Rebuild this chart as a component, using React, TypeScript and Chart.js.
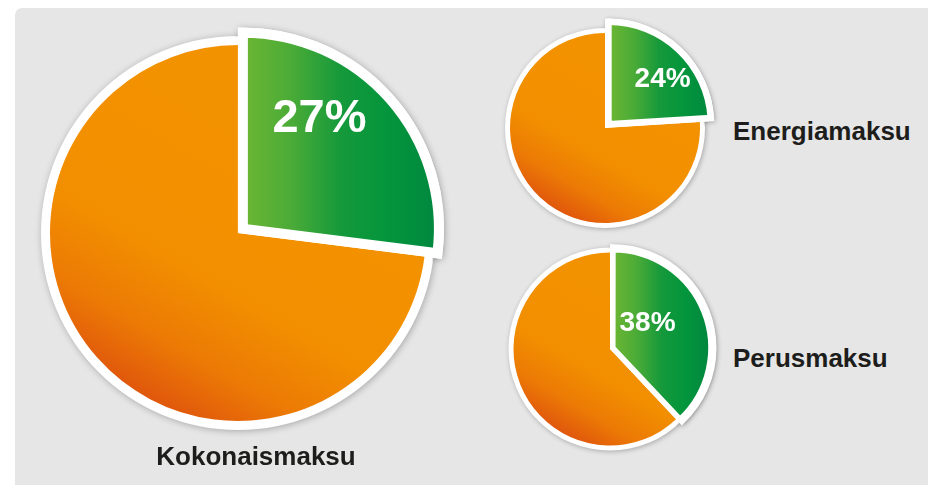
import React, { useEffect, useRef } from 'react';
import { Chart, registerables } from 'chart.js';

Chart.register(...registerables);

// ---- data ----
const pieTitles = ['Kokonaismaksu', 'Energiamaksu', 'Perusmaksu'];
const segmentNames = ['Osuus', 'Muu osuus'];
const greenShares = [27, 24, 38];
const orangeShares = [73, 76, 62];
const shareLabels = ['27%', '24%', '38%'];

// ---- styling / layout (no data) ----
type PieStyle = {
  left: number; top: number; size: number;
  baseR: number; ring: number; sliceR: number; border: number; offset: number;
  font: number; labelAngle: number; labelDist: number; blur: number;
};
const pieStyles: PieStyle[] = [
  { left: 18, top: 13, size: 440, baseR: 188, ring: 9, sliceR: 196, border: 10, offset: 26, font: 47, labelAngle: 0.349, labelDist: 0.70, blur: 7 },
  { left: 485, top: 8, size: 240, baseR: 95, ring: 5, sliceR: 102.5, border: 6.5, offset: 20, font: 28, labelAngle: 0.568, labelDist: 0.70, blur: 5 },
  { left: 490, top: 229, size: 240, baseR: 96.5, ring: 5, sliceR: 97.2, border: 5.5, offset: 12, font: 28, labelAngle: 0.38, labelDist: 0.454, blur: 5 },
];
const titleStyles = [
  { left: 56, top: 443, width: 400, align: 'center' as const },
  { left: 733, top: 118, width: 200, align: 'left' as const },
  { left: 733, top: 345, width: 200, align: 'left' as const },
];

const FONT = '"Liberation Sans", Arial, Helvetica, sans-serif';
const TRANSPARENT = 'rgba(0,0,0,0)';
const SHADOW = 'rgba(0,0,0,0.28)';

function PiePair({ index }: { index: number }) {
  const baseRef = useRef<HTMLCanvasElement>(null);
  const sliceRef = useRef<HTMLCanvasElement>(null);
  const s = pieStyles[index];

  useEffect(() => {
    if (!baseRef.current || !sliceRef.current) return;
    const values = [greenShares[index], orangeShares[index]];

    const discPlugin = {
      id: 'disc',
      beforeDatasetsDraw(chart: any) {
        const el = chart.getDatasetMeta(0).data[1];
        if (!el) return;
        const ctx = chart.ctx as CanvasRenderingContext2D;
        ctx.save();
        ctx.shadowColor = SHADOW;
        ctx.shadowBlur = s.blur;
        ctx.shadowOffsetX = 1;
        ctx.shadowOffsetY = 1;
        ctx.fillStyle = '#ffffff';
        ctx.beginPath();
        ctx.arc(el.x, el.y, el.outerRadius + s.ring, 0, Math.PI * 2);
        ctx.fill();
        ctx.restore();
      },
    };

    const orangeFill = (c: any) => {
      if (c.dataIndex !== 1) return TRANSPARENT;
      const chart = c.chart;
      const a = chart.chartArea;
      if (!a) return '#f39200';
      const cx = (a.left + a.right) / 2;
      const cy = (a.top + a.bottom) / 2;
      const R = s.baseR;
      const g = chart.ctx.createLinearGradient(cx + 0.3 * R, cy - 0.5 * R, cx - 0.5 * R, cy + 0.87 * R);
      g.addColorStop(0, '#f39200');
      g.addColorStop(0.55, '#f28f00');
      g.addColorStop(0.8, '#ec7a05');
      g.addColorStop(1, '#e0570c');
      return g;
    };

    const base = new Chart(baseRef.current, {
      type: 'pie',
      data: {
        labels: segmentNames,
        datasets: [{ data: values, backgroundColor: orangeFill as any, borderWidth: 0 }],
      },
      options: {
        responsive: false,
        animation: false,
        devicePixelRatio: 1,
        events: [],
        radius: s.baseR,
        layout: { padding: 0 },
        plugins: { legend: { display: false }, tooltip: { enabled: false } },
      } as any,
      plugins: [discPlugin],
    });

    const translation = (el: any) => {
      const half = (el.startAngle + el.endAngle) / 2;
      const t = s.offset / 4;
      return { dx: Math.cos(half) * t, dy: Math.sin(half) * t };
    };

    const haloPlugin = {
      id: 'halo',
      beforeDatasetsDraw(chart: any) {
        const el = chart.getDatasetMeta(0).data[0];
        if (!el) return;
        const { x, y, startAngle, endAngle, outerRadius, circumference } = el;
        const { dx, dy } = translation(el);
        const ro = s.offset * (1 - Math.sin(Math.min(Math.PI, circumference)));
        const ctx = chart.ctx as CanvasRenderingContext2D;
        ctx.save();
        ctx.beginPath();
        ctx.rect(0, 0, chart.width, chart.height);
        ctx.arc(x, y, s.baseR + s.ring - 1, 0, Math.PI * 2);
        ctx.clip('evenodd');
        ctx.translate(dx, dy);
        ctx.shadowColor = SHADOW;
        ctx.shadowBlur = s.blur;
        ctx.shadowOffsetX = 1;
        ctx.shadowOffsetY = 1;
        ctx.beginPath();
        ctx.moveTo(x, y);
        ctx.arc(x, y, outerRadius + ro, startAngle, endAngle);
        ctx.closePath();
        ctx.fillStyle = '#ffffff';
        ctx.fill();
        ctx.lineWidth = s.border;
        ctx.lineJoin = 'miter';
        ctx.strokeStyle = '#ffffff';
        ctx.stroke();
        ctx.restore();
      },
      afterDatasetsDraw(chart: any) {
        const el = chart.getDatasetMeta(0).data[0];
        if (!el) return;
        const { x, y, startAngle, endAngle, outerRadius } = el;
        const { dx, dy } = translation(el);
        const ang = startAngle + s.labelAngle * (endAngle - startAngle);
        const r = s.labelDist * outerRadius;
        const lx = x + dx + Math.cos(ang) * r;
        const ly = y + dy + Math.sin(ang) * r;
        const ctx = chart.ctx as CanvasRenderingContext2D;
        ctx.save();
        ctx.font = `bold ${s.font}px ${FONT}`;
        ctx.fillStyle = '#ffffff';
        ctx.textAlign = 'center';
        ctx.textBaseline = 'alphabetic';
        ctx.fillText(shareLabels[index], lx, ly + (s.font * 0.716) / 2);
        ctx.restore();
      },
    };

    const greenFill = (c: any) => {
      if (c.dataIndex !== 0) return TRANSPARENT;
      const chart = c.chart;
      const a = chart.chartArea;
      if (!a) return '#0f9a3b';
      const cx = (a.left + a.right) / 2;
      const g = chart.ctx.createLinearGradient(cx, 0, cx + s.sliceR, 0);
      g.addColorStop(0, '#6db633');
      g.addColorStop(0.25, '#4aab37');
      g.addColorStop(0.5, '#15993b');
      g.addColorStop(0.75, '#03953c');
      g.addColorStop(1, '#00873f');
      return g;
    };

    const slice = new Chart(sliceRef.current, {
      type: 'pie',
      data: {
        labels: segmentNames,
        datasets: [{
          data: values,
          backgroundColor: greenFill as any,
          borderColor: ['#ffffff', TRANSPARENT],
          borderWidth: [s.border, 0],
          borderJoinStyle: 'miter',
          offset: [s.offset, 0],
        }],
      },
      options: {
        responsive: false,
        animation: false,
        devicePixelRatio: 1,
        events: [],
        radius: s.sliceR,
        layout: { padding: 0 },
        plugins: { legend: { display: false }, tooltip: { enabled: false } },
      } as any,
      plugins: [haloPlugin],
    });

    return () => {
      base.destroy();
      slice.destroy();
    };
  }, [index]);

  const style: React.CSSProperties = {
    position: 'absolute', left: s.left, top: s.top, width: s.size, height: s.size,
  };
  return (
    <>
      <canvas ref={baseRef} width={s.size} height={s.size} style={style} />
      <canvas ref={sliceRef} width={s.size} height={s.size} style={style} />
    </>
  );
}

export default function App() {
  return (
    <div style={{ position: 'fixed', left: 0, top: 0, width: 928, height: 485, background: '#ffffff', overflow: 'hidden' }}>
      <div style={{ position: 'absolute', left: 15, top: 8, width: 930, height: 500, background: '#e6e6e6', borderRadius: 7 }} />
      {pieTitles.map((t, i) => (
        <PiePair key={'p' + i} index={i} />
      ))}
      {pieTitles.map((t, i) => (
        <div
          key={'t' + i}
          style={{
            position: 'absolute',
            left: titleStyles[i].left,
            top: titleStyles[i].top,
            width: titleStyles[i].width,
            textAlign: titleStyles[i].align,
            font: `bold 26px ${FONT}`,
            lineHeight: '26px',
            color: '#1d1d1b',
            whiteSpace: 'nowrap',
          }}
        >
          {t}
        </div>
      ))}
    </div>
  );
}
